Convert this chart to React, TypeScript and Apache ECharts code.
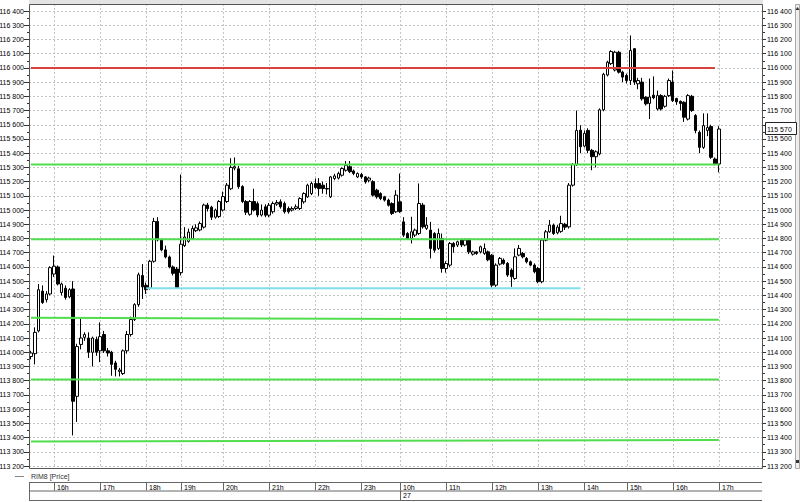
import React, { useEffect, useRef } from "react";
import * as echarts from "echarts";

// [open, close, low, high] for each 5-minute candle
const candles: number[][] = [
  [113970, 113995, 113950, 114010], [113990, 114140, 113915, 114175], [114150, 114440, 114140, 114480],
  [114430, 114350, 114340, 114470], [114370, 114410, 114350, 114430], [114410, 114595, 114400, 114605],
  [114550, 114605, 114530, 114680], [114600, 114480, 114470, 114610], [114420, 114480, 114400, 114490],
  [114450, 114385, 114370, 114470], [114390, 114440, 114380, 114450], [114445, 113655, 113415, 114500],
  [113690, 114040, 113510, 114060], [114055, 114100, 114020, 114235], [114105, 114125, 114080, 114140],
  [114100, 114000, 113960, 114140], [114000, 114100, 113900, 114110], [114090, 114000, 113975, 114110],
  [114010, 114110, 113930, 114210], [114125, 114010, 113995, 114150], [114010, 113995, 113970, 114030],
  [114000, 113915, 113835, 114010], [113925, 113880, 113830, 113940], [113865, 113875, 113830, 113890],
  [113850, 114010, 113840, 114020], [114010, 114125, 113990, 114150], [114125, 114230, 114110, 114250],
  [114230, 114335, 114220, 114345], [114335, 114545, 114320, 114560], [114540, 114460, 114375, 114620],
  [114470, 114440, 114410, 114490], [114450, 114640, 114440, 114650], [114640, 114920, 114630, 114945],
  [114920, 114790, 114780, 114950], [114790, 114720, 114710, 114800], [114720, 114670, 114660, 114750],
  [114670, 114600, 114590, 114680], [114600, 114555, 114540, 114610], [114585, 114455, 114450, 114600],
  [114560, 114760, 114540, 115250], [114750, 114810, 114740, 114880], [114780, 114845, 114770, 114870],
  [114800, 114870, 114790, 114890], [114855, 114875, 114845, 114900], [114860, 114905, 114850, 114920],
  [114880, 115035, 114870, 115045], [115035, 115010, 114990, 115050], [115020, 114950, 114930, 115030],
  [114950, 115000, 114940, 115010], [114955, 115060, 114945, 115070], [115000, 115095, 114990, 115130],
  [115060, 115175, 115050, 115190], [115150, 115300, 115140, 115365], [115295, 115305, 115280, 115370],
  [115290, 115165, 115150, 115310], [115165, 115060, 115050, 115175], [115060, 114985, 114965, 115070],
  [114970, 115060, 114960, 115070], [115060, 115000, 114990, 115150], [115045, 114965, 114950, 115060],
  [114965, 115000, 114955, 115040], [115023, 114964, 114950, 115040], [114964, 115034, 114950, 115050],
  [114988, 115046, 114975, 115060], [115042, 115053, 115030, 115070], [115058, 115023, 115010, 115075],
  [115046, 114988, 114975, 115060], [115011, 114988, 114975, 115025], [115000, 115011, 114990, 115025],
  [115011, 115023, 115000, 115040], [115011, 115081, 115000, 115090], [115058, 115116, 115045, 115125],
  [115093, 115175, 115085, 115185], [115116, 115187, 115105, 115200], [115187, 115159, 115150, 115222],
  [115187, 115151, 115100, 115225], [115175, 115151, 115115, 115200], [115148, 115152, 115110, 115190],
  [115093, 115233, 115085, 115240], [115222, 115240, 115210, 115255], [115225, 115257, 115215, 115270],
  [115245, 115292, 115235, 115300], [115280, 115315, 115270, 115345], [115305, 115270, 115260, 115345],
  [115275, 115257, 115245, 115285], [115233, 115257, 115225, 115265], [115250, 115233, 115220, 115260],
  [115233, 115198, 115185, 115240], [115210, 115225, 115195, 115235], [115200, 115105, 115095, 115210],
  [115140, 115093, 115080, 115150], [115116, 115081, 115070, 115125], [115093, 115070, 115060, 115100],
  [115070, 115034, 115025, 115080], [115046, 114976, 114965, 115055], [114988, 115105, 114980, 115140],
  [115058, 114990, 114980, 115257], [114917, 114824, 114810, 114950], [114835, 114800, 114790, 114845],
  [114800, 114847, 114765, 114953], [114824, 114859, 114810, 114870], [114835, 115046, 114825, 115187],
  [115035, 114882, 114870, 115050], [114871, 114894, 114860, 114950], [114859, 114730, 114660, 114917],
  [114835, 114718, 114700, 114845], [114730, 114835, 114720, 114870], [114800, 114589, 114560, 114835],
  [114589, 114624, 114560, 114640], [114613, 114765, 114600, 114775], [114765, 114742, 114700, 114775],
  [114754, 114777, 114740, 114785], [114789, 114754, 114740, 114800], [114754, 114789, 114745, 114800],
  [114789, 114706, 114690, 114800], [114690, 114706, 114680, 114715], [114706, 114695, 114685, 114712],
  [114706, 114742, 114695, 114750], [114695, 114730, 114685, 114765], [114706, 114650, 114640, 114715],
  [114683, 114472, 114455, 114690], [114472, 114613, 114460, 114625], [114620, 114660, 114610, 114670],
  [114648, 114625, 114615, 114660], [114625, 114543, 114530, 114635], [114578, 114531, 114460, 114590],
  [114519, 114671, 114510, 114730], [114683, 114730, 114675, 114754], [114695, 114671, 114660, 114705],
  [114660, 114636, 114625, 114670], [114636, 114613, 114605, 114645], [114613, 114566, 114555, 114625],
  [114589, 114496, 114485, 114600], [114496, 114789, 114485, 114800], [114788, 114847, 114780, 114860],
  [114847, 114894, 114840, 114930], [114894, 114835, 114825, 114905], [114840, 114880, 114830, 114895],
  [114850, 114905, 114840, 114960], [114900, 114880, 114860, 114910], [114882, 115175, 114870, 115190],
  [115175, 115320, 115165, 115330], [115320, 115560, 115310, 115700], [115562, 115445, 115400, 115597],
  [115450, 115540, 115440, 115560], [115560, 115420, 115400, 115575], [115420, 115375, 115280, 115430],
  [115375, 115410, 115300, 115420], [115395, 115705, 115385, 115715], [115705, 115955, 115695, 115965],
  [115950, 116040, 115940, 116050], [116030, 116115, 116020, 116125], [115985, 116110, 115975, 116120],
  [116110, 115970, 115960, 116120], [115970, 115935, 115900, 115980], [115947, 115911, 115890, 115960],
  [115911, 116123, 115880, 116228], [116135, 115900, 115880, 116140], [115888, 115911, 115850, 115930],
  [115900, 115782, 115770, 115930], [115794, 115747, 115735, 115800], [115750, 115795, 115640, 115925],
  [115808, 115790, 115780, 115940], [115711, 115805, 115700, 115840], [115805, 115711, 115700, 115815],
  [115730, 115800, 115720, 115810], [115805, 115911, 115795, 115925], [115900, 115770, 115760, 115982],
  [115784, 115761, 115740, 115790], [115765, 115750, 115700, 115770], [115758, 115653, 115620, 115765],
  [115640, 115805, 115630, 115815], [115800, 115700, 115690, 115810], [115665, 115559, 115540, 115675],
  [115547, 115441, 115400, 115560], [115441, 115594, 115430, 115680], [115560, 115580, 115520, 115680],
  [115587, 115371, 115360, 115600], [115359, 115324, 115315, 115370], [115324, 115570, 115265, 115590],
];

const totalSlots = 191;
const hourLabels = ["16h", "17h", "18h", "19h", "20h", "21h", "22h", "23h", "10h", "11h", "12h", "13h", "14h", "15h", "16h", "17h"];
const hourIndex = [6, 18, 30, 39, 50, 62, 74, 86, 96, 108, 120, 132, 144, 155, 167, 179];
const dateLabels = ["27"];
const dateIndex = [96];

const yMin = 113200;
const yMax = 116400;
const yStep = 100;

// horizontal drawn levels: [start value, end value], spans in candle index
const redLevel = [116000, 116000];
const redSpan = [0, 178];
const greenLevels = [
  [115320, 115320],
  [114795, 114795],
  [114242, 114228],
  [113808, 113808],
  [113373, 113383],
];
const greenSpan = [0, 179];
const cyanLevel = [114450, 114450];
const cyanSpan = [30, 143];

const symbolName = "RIM8 [Price]";

const FONT = "Liberation Sans, Arial, sans-serif";
const FS = 7;
const fmt = (v: number) => {
  const t = Math.floor(v / 1000);
  const r = Math.round(v - t * 1000);
  return `${t} ${String(r).padStart(3, "0")}`;
};

export default function App() {
  const ref = useRef<HTMLDivElement>(null);
  useEffect(() => {
    if (!ref.current) return;
    const chart = echarts.init(ref.current, null, { renderer: "svg" });
    const cats = Array.from({ length: totalSlots }, (_, i) => String(i));
    const lvl = (vals: number[], span: number[], color: string, name: string) => ({
      type: "line",
      name,
      data: [
        [span[0], vals[0]],
        [span[1], vals[1]],
      ],
      showSymbol: false,
      symbol: "none",
      silent: true,
      z: 5,
      lineStyle: { color, width: 2 },
    });
    const yAxisBase = {
      type: "value",
      min: yMin,
      max: yMax,
      interval: yStep,
      axisLine: { show: false },
      minorTick: { show: true, splitNumber: 2, length: 2, lineStyle: { color: "#333" } },
    };
    const option: any = {
      animation: false,
      backgroundColor: "#ffffff",
      grid: { left: 29, right: 37, top: 11, bottom: 36, containLabel: false, outerBoundsMode: "none" },
      xAxis: {
        type: "category",
        data: cats,
        boundaryGap: true,
        axisLine: { show: false },
        axisTick: { show: false },
        axisLabel: { show: false },
        splitLine: { show: false },
      },
      yAxis: [
        {
          ...yAxisBase,
          position: "left",
          axisTick: { show: true, length: 5, lineStyle: { color: "#333" } },
          axisLabel: { formatter: fmt, fontSize: FS, fontFamily: FONT, color: "#000", margin: 5 },
          splitLine: { show: true, lineStyle: { color: "#c4c4c4", type: [2, 2], width: 1 } },
        },
        {
          ...yAxisBase,
          position: "right",
          axisTick: { show: true, length: 3, lineStyle: { color: "#333" } },
          axisLabel: { formatter: fmt, fontSize: FS, fontFamily: FONT, color: "#000", margin: 4 },
          splitLine: { show: false },
        },
      ],
      series: [
        {
          type: "candlestick",
          data: candles,
          barWidth: 3,
          z: 3,
          itemStyle: {
            color: "#ffffff",
            color0: "#000000",
            borderColor: "#000000",
            borderColor0: "#000000",
            borderWidth: 1,
          },
        },
        lvl(redLevel, redSpan, "#d9433f", "red"),
        ...greenLevels.map((g, k) => lvl(g, greenSpan, "#52dd4f", "green" + k)),
        lvl(cyanLevel, cyanSpan, "#7fe0ea", "cyan"),
      ],
    };
    chart.setOption(option);

    const gx = (i: number) => chart.convertToPixel({ xAxisIndex: 0 }, i) as number;
    const gy = (v: number) => chart.convertToPixel({ yAxisIndex: 0 }, v) as number;
    const L = 29, R = 763, T = 4, B = 468;
    const rowTop = 482, rowMid = 490.5, rowBot = 500;
    const font = `${FS}px ${FONT}`;
    const els: any[] = [];
    els.push({ type: "rect", silent: true, z: 0, shape: { x: L, y: 0, width: R - L, height: T }, style: { fill: "#e4e4e4" } });
    hourIndex.forEach((i) => {
      const x = Math.round(gx(i)) + 0.5;
      els.push({ type: "line", silent: true, z: 0, shape: { x1: x, y1: T, x2: x, y2: B }, style: { stroke: "#c4c4c4", lineWidth: 1, lineDash: [2, 2] } });
    });
    els.push({ type: "rect", silent: true, z: 10, shape: { x: L + 0.5, y: T + 0.5, width: R - L - 1, height: B - T }, style: { fill: "none", stroke: "#555", lineWidth: 1 } });
    // legend row
    els.push({ type: "line", silent: true, z: 10, shape: { x1: 15, y1: 476.5, x2: 24, y2: 476.5 }, style: { stroke: "#888", lineWidth: 1 } });
    els.push({ type: "text", silent: true, z: 10, style: { text: symbolName, x: 31, y: 476.5, font, fill: "#333", textVerticalAlign: "middle" } });
    // time box
    [rowTop, rowMid, rowBot].forEach((yy) => {
      els.push({ type: "line", silent: true, z: 10, shape: { x1: L, y1: yy + 0.5, x2: R - 1, y2: yy + 0.5 }, style: { stroke: "#666", lineWidth: 1 } });
    });
    els.push({ type: "line", silent: true, z: 10, shape: { x1: L + 0.5, y1: rowTop, x2: L + 0.5, y2: rowBot + 1 }, style: { stroke: "#666", lineWidth: 1 } });
    hourIndex.forEach((i, k) => {
      const x = Math.round(gx(i)) + 0.5;
      els.push({ type: "line", silent: true, z: 10, shape: { x1: x, y1: rowTop, x2: x, y2: rowMid }, style: { stroke: "#666", lineWidth: 1 } });
      els.push({ type: "text", silent: true, z: 10, style: { text: hourLabels[k], x: x + 2.5, y: rowTop + 5, font, fill: "#000", textVerticalAlign: "middle" } });
    });
    dateIndex.forEach((i, k) => {
      const x = Math.round(gx(i)) + 0.5;
      els.push({ type: "line", silent: true, z: 10, shape: { x1: x, y1: rowMid, x2: x, y2: rowBot }, style: { stroke: "#666", lineWidth: 1 } });
      els.push({ type: "text", silent: true, z: 10, style: { text: dateLabels[k], x: x + 2.5, y: rowMid + 5, font, fill: "#000", textVerticalAlign: "middle" } });
    });
    // current price tag
    const last = candles[candles.length - 1][1];
    const ly = gy(last);
    els.push({ type: "rect", silent: true, z: 20, shape: { x: R + 2.5, y: Math.round(ly) - 6.5, width: 31, height: 12 }, style: { fill: "#fff", stroke: "#222", lineWidth: 1 } });
    els.push({ type: "text", silent: true, z: 21, style: { text: fmt(last), x: R + 4, y: Math.round(ly), font, fill: "#000", textVerticalAlign: "middle" } });
    // scrollbar
    els.push({ type: "rect", silent: true, z: 15, shape: { x: 795.5, y: T + 0.5, width: 4, height: B - T }, style: { fill: "#eeeeee", stroke: "#a8a8a8", lineWidth: 1 } });
    els.push({ type: "polygon", silent: true, z: 16, shape: { points: [[797.5, 7], [795.5, 10], [799.5, 10]] }, style: { fill: "#333" } });
    els.push({ type: "rect", silent: true, z: 16, shape: { x: 796, y: 460, width: 3, height: 3 }, style: { fill: "#333" } });
    chart.setOption({ graphic: { elements: els } });
    return () => chart.dispose();
  }, []);
  return <div ref={ref} style={{ position: "fixed", left: 0, top: 0, width: 800, height: 502 }} />;
}
